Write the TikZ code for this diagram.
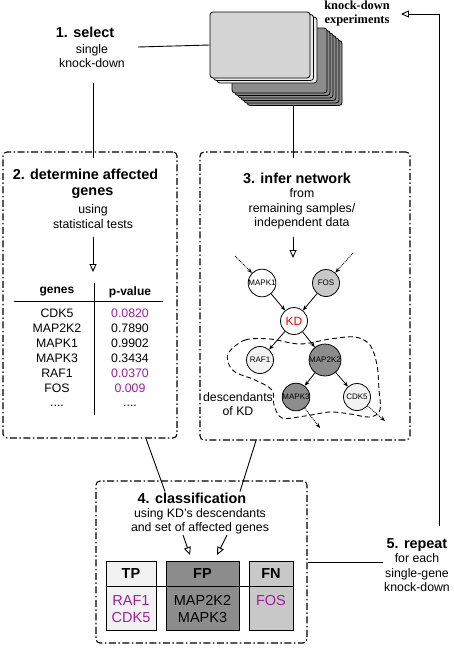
\documentclass[tikz,border=0pt]{standalone}
\usepackage{fontspec}
\setmainfont{Liberation Sans}
\newfontfamily\serifbf{Liberation Serif}
\usetikzlibrary{arrows.meta}
\definecolor{magt}{RGB}{162,28,158}
\definecolor{lightg}{RGB}{242,242,242}
\definecolor{midg}{RGB}{200,200,200}
\definecolor{darkg}{RGB}{140,140,140}
\definecolor{cardg}{RGB}{212,212,212}
\definecolor{cardb}{RGB}{236,236,236}
\newcommand\fhd{\fontsize{14.4}{18}\selectfont\bfseries}
\newcommand\frg{\fontsize{12.3}{14.5}\selectfont}
\newcommand\ftb{\fontsize{14.5}{16.5}\selectfont}
\newcommand\fnd{\fontsize{8}{8}\selectfont}
\begin{document}
\begin{tikzpicture}[x=1pt,y=-1pt,
  dbox/.style={draw, line width=1.1pt, dash pattern=on 7pt off 2.5pt on 1.5pt off 2.5pt, rounded corners=4pt, inner sep=0pt},
  txt/.style={inner sep=1pt, align=center},
  gene/.style={circle, draw, line width=0.8pt, minimum size=27pt, inner sep=0pt, font=\fnd},
  card/.style={draw, line width=0.8pt, rounded corners=3pt, minimum width=100pt, minimum height=66pt, inner sep=0pt},
  dcard/.style={draw, fill=darkg, line width=0.8pt, rounded corners=3pt, minimum width=95pt, minimum height=65pt, inner sep=0pt},
  edge/.style={line width=0.8pt, -{Stealth[length=5pt,width=4pt]}},
  dedge/.style={line width=0.9pt, densely dotted, -{Stealth[length=5pt,width=4pt]}},
  oarrow/.style={line width=0.9pt, -{Triangle[open, length=8pt, width=7pt]}},
  conn/.style={line width=0.9pt},
  cell/.style={draw, line width=1pt, minimum height=69pt, inner sep=0pt}]
\fill[white] (0,0) rectangle (454,648);
\useasboundingbox (0,0) rectangle (454,648);

% stack of knock-down experiments
\foreach \i in {5,4,3,2,1,0}
  \node[dcard] (dk\i) at (279.5+3*\i, 60.5+2.5*\i) {};
\node[card, fill=cardb] (lc2) at (267,50) {};
\node[card, fill=cardb] (lc1) at (263.5,47.5) {};
\node[card, fill=cardg] (card) at (260,45) {};
\node[txt, font=\serifbf\bfseries\fontsize{12.4}{14}\selectfont, inner xsep=11pt] (kde) at (357,14) {knock-down\\experiments};

% step 1
\node[txt, font=\fhd] (sel1) at (85,32) {1. select};
\node[txt, font=\frg] (sel2) at (92,56) {single\\knock-down};
\coordinate (selr) at (138,47);
\draw[conn] (selr) -- (card.west);

% boxes
\node[dbox, minimum width=174pt, minimum height=286pt] (box2) at (90,295) {};
\node[dbox, minimum width=210pt, minimum height=288pt] (box3) at (305,296) {};
\node[dbox, minimum width=211pt, minimum height=162pt] (box4) at (201.5,562) {};

\coordinate (s1a) at (93,83);
\coordinate (s1b) at (93,158);
\draw[conn] (s1a) -- (s1b);
\coordinate (s3a) at (293,105.5);
\coordinate (s3b) at (293,158);
\draw[conn] (s3a) -- (s3b);

% box 2
\node[txt, font=\fhd] (t2a) at (85.5,174) {2. determine affected};
\node[txt, font=\fhd] (t2b) at (92.5,193) {genes};
\node[txt, font=\frg] (t2c) at (93,216.5) {using\\statistical tests};
\coordinate (a2s) at (93,237);
\coordinate (a2e) at (93,272);
\draw[oarrow] (a2s) -- (a2e);
\node[txt, font=\fontsize{12}{14}\selectfont\bfseries] (hg) at (57,292) {genes};
\node[txt, font=\fontsize{12}{14}\selectfont\bfseries] (hp) at (130,292) {p-value};
\draw[line width=1pt] (14,301) -- (163,301);
\draw[line width=1pt] (94,283) -- (94,415);
\foreach \g/\p/\c [count=\k from 0] in {CDK5/0.0820/magt, MAP2K2/0.7890/black, MAPK1/0.9902/black, MAPK3/0.3434/black, RAF1/0.0370/magt, FOS/0.009/magt} {
  \node[txt, font=\frg] (g\k) at (57,313+15*\k) {\g};
  \node[txt, font=\frg, text=\c] (p\k) at (130,313+15*\k) {\p};
}
\node[txt, font=\frg, anchor=base] (gd) at (57,406) {....};
\node[txt, font=\frg, anchor=base] (pd) at (130,406) {....};

% box 3
\node[txt, font=\fhd] (t3a) at (297,178) {3. infer network};
\node[txt, font=\frg] (t3b) at (302,209) {from\\remaining samples/\\independent data};
\coordinate (a3s) at (293,237);
\coordinate (a3e) at (293,258);
\draw[oarrow] (a3s) -- (a3e);

\draw[line width=0.9pt, dash pattern=on 5pt off 3pt] plot[smooth cycle, tension=0.55] coordinates {
 (229,352) (245,340) (270,339) (300,344) (330,339) (355,337) (370,345) (377,365)
 (379,390) (380,410) (370,417) (350,414) (330,412) (305,416) (282,418) (274,405)
 (272,390) (255,380) (235,372) (228,362)};

\node[gene, fill=white] (mapk1) at (262,283) {MAPK1};
\node[gene, fill=midg] (fos) at (326,283) {FOS};
\node[gene, fill=white, font=\fontsize{12}{12}\selectfont, text=red] (kd) at (294,321) {KD};
\node[gene, fill=lightg] (raf1) at (260,360) {RAF1};
\node[gene, fill=darkg] (map2k2) at (325,360) {MAP2K2};
\node[gene, fill=darkg] (mapk3) at (296,397) {MAPK3};
\node[gene, fill=lightg] (cdk5) at (357,397) {CDK5};
\coordinate (in1) at (235,256);
\coordinate (in2) at (353,253);
\coordinate (out1) at (320,428);
\coordinate (out2) at (385,421);
\draw[dedge] (in1) -- (mapk1);
\draw[dedge] (in2) -- (fos);
\draw[edge] (mapk1) -- (kd);
\draw[edge] (fos) -- (kd);
\draw[edge] (kd) -- (raf1);
\draw[edge] (kd) -- (map2k2);
\draw[edge] (map2k2) -- (mapk3);
\draw[edge] (map2k2) -- (cdk5);
\draw[dedge] (mapk3) -- (out1);
\draw[dedge] (cdk5) -- (out2);
\node[txt, font=\frg] (desc) at (238,404) {descendants\\of KD};

% box 4
\node[txt, font=\fhd] (cls) at (192,498) {4. classification};
\node[txt, font=\frg] (cls2) at (200,521.5) {using KD's descendants\\and set of affected genes};
\draw[conn] ([xshift=56pt]box2.south) -- ([xshift=-27pt]cls.north);
\draw[conn] ([xshift=-49pt]box3.south) -- ([xshift=48pt]cls.north);
\coordinate (a4s) at (183,535);
\coordinate (a4e) at (190,555);
\coordinate (a5s) at (227,535);
\coordinate (a5e) at (217,555);
\draw[oarrow] (a4s) -- (a4e);
\draw[oarrow] (a5s) -- (a5e);

\node[cell, fill=lightg, minimum width=50pt] (tp) at (131,595.5) {};
\node[cell, fill=darkg, minimum width=73pt] (fp) at (202.5,595.5) {};
\node[cell, fill=midg, minimum width=44pt] (fn) at (271,595.5) {};
\coordinate (divy) at (0,586);
\draw[line width=1pt] (tp.west |- divy) -- (fn.east |- divy);
\node[txt, font=\ftb\bfseries] (tph) at (131,573.5) {TP};
\node[txt, font=\ftb\bfseries] (fph) at (202.5,573.5) {FP};
\node[txt, font=\ftb\bfseries] (fnh) at (271,573.5) {FN};
\node[txt, font=\ftb, text=magt] (tpc) at (131,609) {RAF1\\CDK5};
\node[txt, font=\ftb] (fpc) at (202.5,609) {MAP2K2\\MAPK3};
\node[txt, font=\ftb, text=magt] (fnc) at (271,601) {FOS};

% step 5
\node[txt, font=\frg] (rep) at (417,565) {{\fhd 5. repeat}\\for each\\single-gene\\knock-down};
\draw[conn] (box4.east) -- (box4.east -| rep.west);
\coordinate (rcol) at (439,0);
\coordinate (rbot) at (439,526);
\draw[oarrow] (rbot) -- (rcol |- kde.east) -- (kde.east);
\end{tikzpicture}
\end{document}
